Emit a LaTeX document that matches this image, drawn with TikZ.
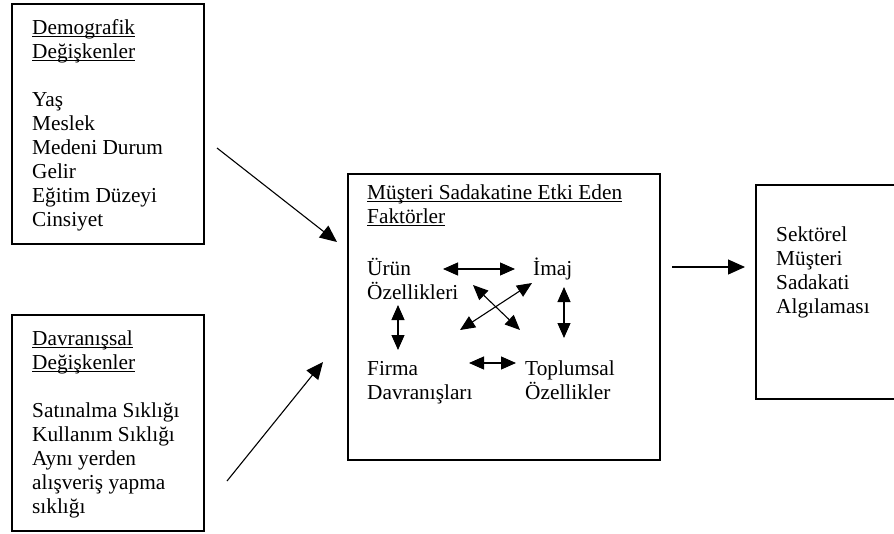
\documentclass[tikz,border=0pt]{standalone}
\usepackage{fontspec}
\setmainfont{Liberation Serif}
\usetikzlibrary{arrows.meta}
\newcommand{\myul}[1]{\setbox0=\hbox{#1}\rlap{\rule[-3pt]{\wd0}{0.9pt}}\box0}
\begin{document}
\begin{tikzpicture}[x=1pt,y=-1pt,
  box/.style={draw, line width=1.6pt, inner sep=0pt, anchor=north west},
  txt/.style={anchor=base west, align=left, inner sep=0pt, font=\fontsize{21.3}{24}\selectfont},
  arr/.style={line width=1.1pt, -{Triangle[length=17pt,width=15pt]}},
  darr/.style={line width=1.1pt, {Triangle[length=15pt,width=13pt]}-{Triangle[length=15pt,width=13pt]}}]
\useasboundingbox (0,0) rectangle (894,533);
% boxes
\node[box, minimum width=192pt, minimum height=240pt] (demobox) at (11,3) {};
\node[box, minimum width=192pt, minimum height=216pt] (davrbox) at (11,314) {};
\node[box, minimum width=312pt, minimum height=286pt] (faktbox) at (347,173) {};
\node[box, minimum width=145pt, minimum height=214pt] (sektbox) at (755,184) {};
% texts (anchor = baseline of the last line)
\node[txt] (demo) at (32,226) {\myul{Demografik}\\\myul{Değişkenler}\\[24pt]Yaş\\Meslek\\Medeni Durum\\Gelir\\Eğitim Düzeyi\\Cinsiyet};
\node[txt] (davr) at (32,513) {\myul{Davranışsal}\\\myul{Değişkenler}\\[24pt]Satınalma Sıklığı\\Kullanım Sıklığı\\Aynı yerden\\alışveriş yapma\\sıklığı};
\node[txt] (title) at (367,223) {\myul{Müşteri Sadakatine Etki Eden}\\\myul{Faktörler}};
\node[txt] (urun) at (367,299) {Ürün\\Özellikleri};
\node[txt] (imaj) at (533,275) {İmaj};
\node[txt] (firma) at (367,399) {Firma\\Davranışları};
\node[txt] (topl) at (525,399) {Toplumsal\\Özellikler};
\node[txt] (sekt) at (776,313) {Sektörel\\Müşteri\\Sadakati\\Algılaması};
% main arrows
\coordinate (a1s) at (217,148); \coordinate (a1e) at (337,242);
\coordinate (a2s) at (227,481); \coordinate (a2e) at (323,362);
\coordinate (a3s) at (672,267); \coordinate (a3e) at (745,267);
\draw[arr] (a1s) -- (a1e);
\draw[arr] (a2s) -- (a2e);
\draw[arr] (a3s) -- (a3e);
% inner arrows
\coordinate (h1a) at (443,269); \coordinate (h1b) at (515,269);
\coordinate (v1a) at (398,305); \coordinate (v1b) at (398,350);
\coordinate (v2a) at (564,287); \coordinate (v2b) at (564,338);
\coordinate (h2a) at (469,363); \coordinate (h2b) at (516,363);
\coordinate (d1a) at (473,285); \coordinate (d1b) at (520,330);
\coordinate (d2a) at (532,283); \coordinate (d2b) at (460,330);
\draw[darr] (h1a) -- (h1b);
\draw[darr] (v1a) -- (v1b);
\draw[darr] (v2a) -- (v2b);
\draw[darr] (h2a) -- (h2b);
\draw[darr] (d1a) -- (d1b);
\draw[darr] (d2a) -- (d2b);
\end{tikzpicture}
\end{document}
